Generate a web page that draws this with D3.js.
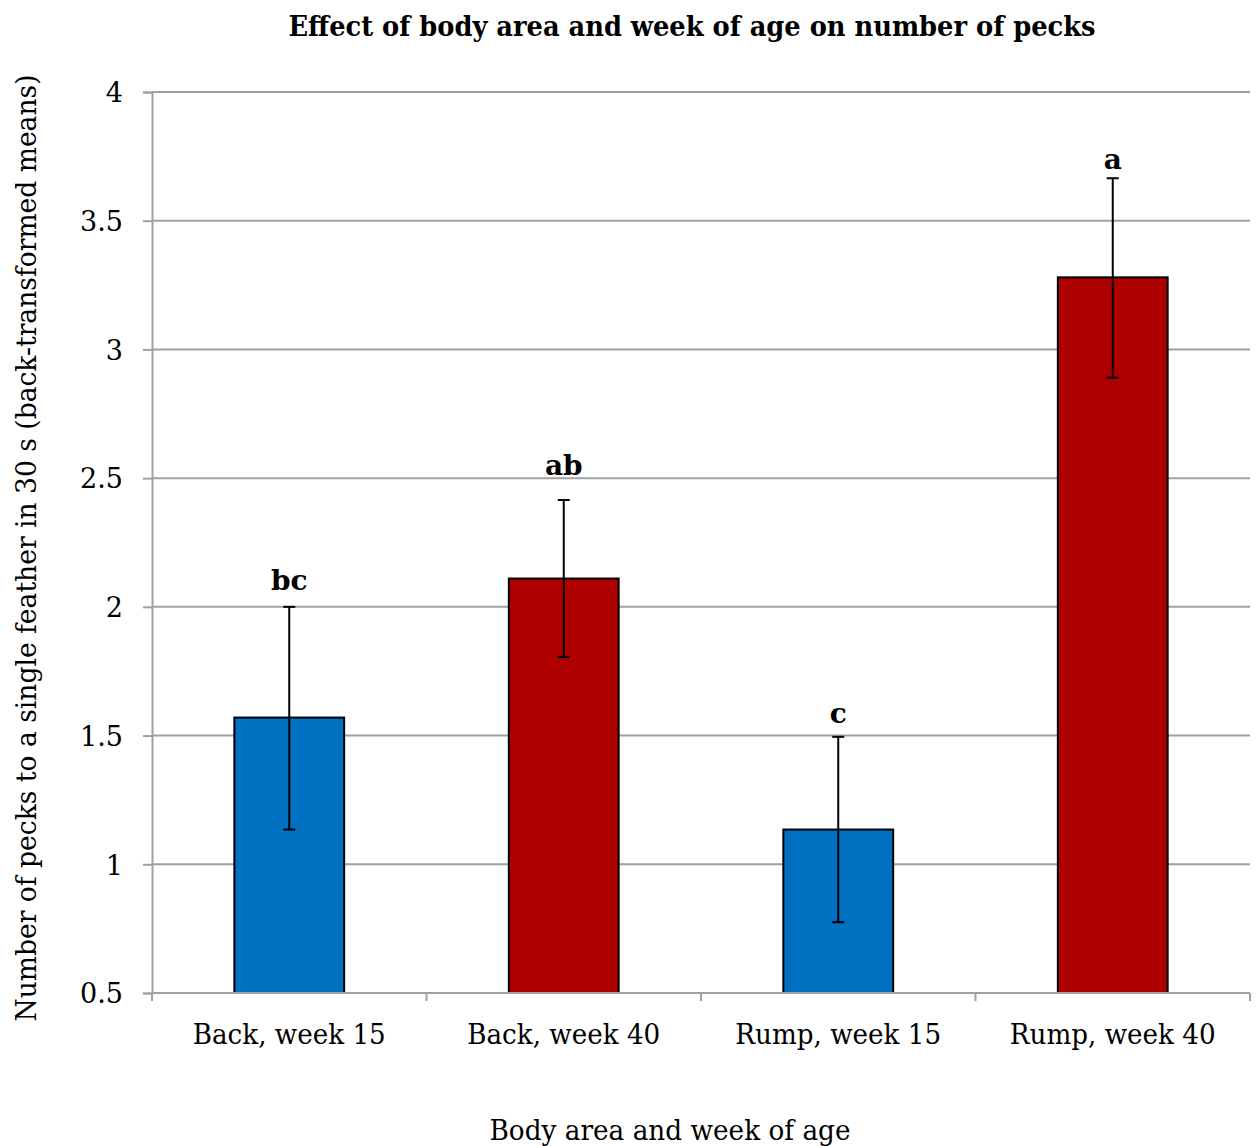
<!DOCTYPE html>
<html>
<head>
<meta charset="utf-8">
<script src="https://cdn.jsdelivr.net/npm/d3@7"></script>
<style>
  html, body { margin: 0; padding: 0; background: #fff; }
  svg text { font-family: "DejaVu Serif", "Liberation Serif", serif; fill: #000; }
</style>
</head>
<body>
<svg id="chart" width="1259" height="1146"></svg>
<script>
// Groups: body area and week of age
const categories = ["Back, week 15", "Back, week 40", "Rump, week 15", "Rump, week 40"];
// Back-transformed mean number of pecks in 30 s
const means = [1.57, 2.11, 1.135, 3.28];
// Upper and lower limits of the error bars
const upper = [2.0, 2.415, 1.495, 3.665];
const lower = [1.135, 1.805, 0.775, 2.89];
// Significance letters and the value at which each one sits
const letters = ["bc", "ab", "c", "a"];
const letterAt = [2.066, 2.512, 1.549, 3.70];
// Week of age decides the fill
const weeks = [15, 40, 15, 40];
const yTicks = [0.5, 1, 1.5, 2, 2.5, 3, 3.5, 4];

const svg = d3.select("#chart");
const plotLeft = 152, plotRight = 1250, plotTop = 92, plotBottom = 993;

const x = d3.scaleBand().domain(categories).range([plotLeft, plotRight]).paddingInner(0.6).paddingOuter(0.3);
const xOuter = d3.scaleBand().domain(categories).range([plotLeft, plotRight]).padding(0);
const y = d3.scaleLinear().domain([0.5, 4]).range([plotBottom, plotTop]);
const color = d3.scaleOrdinal().domain([15, 40]).range(["#0070c0", "#ae0000"]);

// Horizontal gridlines
svg.append("g").selectAll("line").data(yTicks.slice(1)).join("line")
  .attr("x1", plotLeft).attr("x2", plotRight)
  .attr("y1", d => y(d)).attr("y2", d => y(d))
  .attr("stroke", "#a0a0a0").attr("stroke-width", 2);

// Y axis
const yAxis = svg.append("g").attr("transform", `translate(${plotLeft},0)`)
  .call(d3.axisLeft(y).tickValues(yTicks).tickSize(9).tickPadding(20).tickFormat(d3.format("")));
yAxis.select(".domain").attr("stroke", "#a0a0a0").attr("stroke-width", 2);
yAxis.selectAll(".tick line").attr("stroke", "#a0a0a0").attr("stroke-width", 2);
yAxis.selectAll(".tick text").attr("font-size", 27).attr("font-family", "DejaVu Serif").attr("dy", "0.36em");

// Bars
svg.append("g").selectAll("rect").data(categories).join("rect")
  .attr("x", d => x(d)).attr("width", x.bandwidth())
  .attr("y", (d, i) => y(means[i])).attr("height", (d, i) => y(0.5) - y(means[i]))
  .attr("fill", (d, i) => color(weeks[i]))
  .attr("stroke", "#000").attr("stroke-width", 2);

// X axis with ticks at category boundaries
const xAxisG = svg.append("g").attr("transform", `translate(0,${plotBottom})`);
xAxisG.append("line").attr("x1", plotLeft).attr("x2", plotRight).attr("stroke", "#a0a0a0").attr("stroke-width", 2);
const bounds = categories.map(c => xOuter(c)).concat([plotRight]);
xAxisG.selectAll("line.tk").data(bounds).join("line").attr("class", "tk")
  .attr("x1", d => d).attr("x2", d => d).attr("y1", 0).attr("y2", 8)
  .attr("stroke", "#a0a0a0").attr("stroke-width", 2);
const xLabels = xAxisG.selectAll("text").data(categories).join("text")
  .attr("x", d => x(d) + x.bandwidth() / 2).attr("y", 51)
  .attr("text-anchor", "middle").attr("font-size", 27)
  .text(d => d);
// Narrow the serif labels a little so they keep a compact width
const squeeze = 193 / xLabels.node().getComputedTextLength();
xLabels.each(function () {
  const w = this.getComputedTextLength();
  d3.select(this).attr("textLength", w * squeeze).attr("lengthAdjust", "spacingAndGlyphs");
});

// Error bars
const eb = svg.append("g").attr("stroke", "#000").attr("stroke-width", 2);
categories.forEach((c, i) => {
  const cx = x(c) + x.bandwidth() / 2;
  eb.append("line").attr("x1", cx).attr("x2", cx).attr("y1", y(upper[i])).attr("y2", y(lower[i]));
  eb.append("line").attr("x1", cx - 6).attr("x2", cx + 6).attr("y1", y(upper[i])).attr("y2", y(upper[i]));
  eb.append("line").attr("x1", cx - 6).attr("x2", cx + 6).attr("y1", y(lower[i])).attr("y2", y(lower[i]));
});

// Significance letters
svg.append("g").selectAll("text").data(categories).join("text")
  .attr("x", d => x(d) + x.bandwidth() / 2)
  .attr("y", (d, i) => y(letterAt[i]))
  .attr("text-anchor", "middle").attr("font-size", 28).attr("font-weight", "bold")
  .text((d, i) => letters[i]);

// Title
svg.append("text").attr("x", 692).attr("y", 36).attr("text-anchor", "middle")
  .attr("font-size", 28).attr("font-weight", "bold")
  .attr("textLength", 807).attr("lengthAdjust", "spacingAndGlyphs")
  .text("Effect of body area and week of age on number of pecks");

// Axis titles
svg.append("text").attr("x", 670).attr("y", 1140).attr("text-anchor", "middle")
  .attr("font-size", 27).attr("textLength", 361).attr("lengthAdjust", "spacingAndGlyphs")
  .text("Body area and week of age");

svg.append("text").attr("transform", "translate(36,548) rotate(-90)").attr("text-anchor", "middle")
  .attr("font-size", 27).attr("textLength", 947).attr("lengthAdjust", "spacingAndGlyphs")
  .text("Number of pecks to a single feather in 30 s (back-transformed means)");
</script>
</body>
</html>
